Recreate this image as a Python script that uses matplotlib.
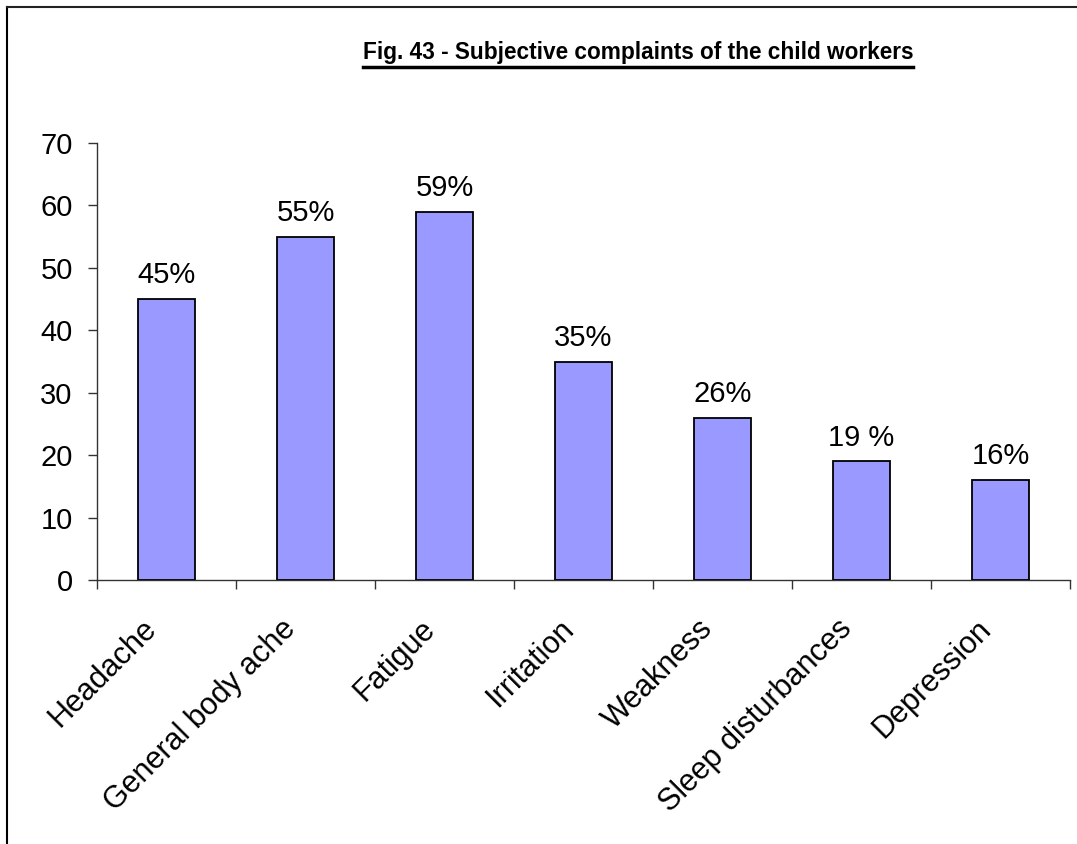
import matplotlib
matplotlib.use("Agg")
import matplotlib.pyplot as plt
from matplotlib.lines import Line2D
from matplotlib.transforms import ScaledTranslation

categories = ["Headache", "General body ache", "Fatigue", "Irritation",
              "Weakness", "Sleep disturbances", "Depression"]
values = [45, 55, 59, 35, 26, 19, 16]
bar_labels = ["45%", "55%", "59%", "35%", "26%", "19 %", "16%"]
yticks = [0, 10, 20, 30, 40, 50, 60, 70]
title = "Fig. 43 - Subjective complaints of the child workers"

plt.rcParams['font.family'] = ['Liberation Sans', 'DejaVu Sans']

W, H = 1077, 844
fig = plt.figure(figsize=(W / 100, H / 100), dpi=100)
ax = fig.add_axes([97 / W, 1 - 580 / H, (1070 - 97) / W, (580 - 143) / H])

x = list(range(len(categories)))
ax.bar(x, values, width=0.41, color="#9999FF", edgecolor="black", linewidth=1.3, zorder=3)
for xi, v, lab in zip(x, values, bar_labels):
    ax.annotate(lab, (xi, v), xytext=(0, 7), textcoords="offset points",
                ha="center", va="bottom", fontsize=21)

ax.set_xlim(-0.5, len(categories) - 0.5)
ax.set_ylim(0, 70)
ax.set_yticks(yticks)
ax.set_yticklabels([str(t) for t in yticks], fontsize=21)
ax.set_xticks([i - 0.5 for i in range(len(categories) + 1)])
ax.set_xticklabels([])
ax.set_xticks(x, minor=True)
ax.set_xticklabels(categories, minor=True, rotation=45, ha="right", va="center",
                   rotation_mode="anchor", fontsize=22)
ax.tick_params(axis="x", which="minor", length=0, pad=32)
ax.tick_params(axis="x", which="major", direction="out", length=6.5, width=1, color="#333333")
ax.tick_params(axis="y", direction="out", length=6.5, width=1, color="#333333", pad=11)
shift = ScaledTranslation(-14 / 100, 0, fig.dpi_scale_trans)
for lbl in ax.get_xticklabels(minor=True):
    lbl.set_transform(lbl.get_transform() + shift)
for s in ["top", "right"]:
    ax.spines[s].set_visible(False)
for s in ["left", "bottom"]:
    ax.spines[s].set_color("#333333")
    ax.spines[s].set_linewidth(1)

# figure border (left and top)
fig.add_artist(Line2D([7 / W, 7 / W], [0, 1 - 7 / H], color="black", lw=1.5))
fig.add_artist(Line2D([7 / W, 1], [1 - 7 / H, 1 - 7 / H], color="#222222", lw=1.5))

t = fig.text(638 / W, 1 - 52 / H, title, ha="center", va="center",
             fontsize=16.3, fontweight="bold")
fig.canvas.draw()
bb = t.get_window_extent()
y_ul = (bb.y0 - 3) / H
fig.add_artist(Line2D([bb.x0 / W, bb.x1 / W], [y_ul, y_ul], color="black", lw=2.5))

fig.savefig("out.png", dpi=100)
